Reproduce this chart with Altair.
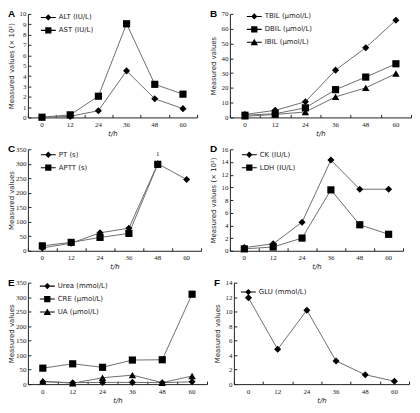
import altair as alt
import pandas as pd

hours = ["0", "12", "24", "36", "48", "60"]

# Panel A (x 10^2)
alt_iu = [0.02, 0.1, 0.65, 4.5, 1.8, 0.85]
ast_iu = [0.02, 0.25, 2.05, 9.05, 3.2, 2.25]
# Panel B
tbil = [2.0, 4.8, 10.6, 32.0, 47.2, 65.8]
dbil = [1.5, 2.5, 6.5, 18.8, 27.3, 36.3]
ibil = [0.8, 2.0, 3.7, 13.9, 20.0, 29.7]
# Panel C
pt_s = [10, 26, 62, 78, 300, 246]
aptt_s = [17, 29, 46, 60, 298, None]
# Panel D (x 10^2)
ck = [0.5, 1.1, 4.5, 14.3, 9.7, 9.7]
ldh = [0.3, 0.6, 2.0, 9.6, 4.1, 2.6]
# Panel E
urea = [8, 5, 6, 6, 5, 8]
cre = [55, 70, 58, 83, 84, 310]
ua = [10, 3, 22, 31, 5, 28]
# Panel F
glu = [11.9, 4.8, 10.2, 3.2, 1.3, 0.4]

SHAPE = {"diamond": "diamond", "square": "square", "triangle": "triangle-up"}
SIZE = {"diamond": 50, "square": 52, "triangle": 56}
BAR = "M-1,-0.07L1,-0.07L1,0.07L-1,0.07Z"
LEG_PATH = {
    "diamond": BAR + "M0,-0.42L0.42,0L0,0.42L-0.42,0Z",
    "square": BAR + "M-0.42,-0.42L0.42,-0.42L0.42,0.42L-0.42,0.42Z",
    "triangle": BAR + "M0,-0.48L0.5,0.4L-0.5,0.4Z",
}

LABEL_FONT = "Liberation Serif"
TEXT_FONT = "DejaVu Sans"


def panel(letter, series, ymax, ystep, ytitle, width, height, legx, legy, note=None):
    rows = []
    for name, kind, vals in series:
        for h, v in zip(hours, vals):
            if v is not None:
                rows.append({"t": h, "v": v, "s": name, "sz": SIZE[kind]})
    df = pd.DataFrame(rows)
    names = [s[0] for s in series]
    kinds = [s[1] for s in series]
    xscale = alt.Scale(type="band", domain=hours, paddingInner=0, paddingOuter=0)
    yscale = alt.Scale(domain=[0, ymax], nice=False, zero=True)
    yvals = list(range(0, ymax + 1, ystep))

    def xs(axis):
        return alt.X("t:O", sort=hours, scale=xscale, axis=axis)

    def ys(axis):
        return alt.Y("v:Q", scale=yscale, axis=axis)

    xmain = alt.Axis(title="t/h", titleFontStyle="italic", ticks=False, grid=False,
                     labelAngle=0, labelPadding=3, titlePadding=2, orient="bottom")
    ymain = alt.Axis(title=ytitle, values=yvals, ticks=False, grid=False,
                     labelPadding=2, titleX=-13, orient="left")
    base = alt.Chart(df)
    line = base.mark_line(color="#6e6e6e", strokeWidth=1).encode(x=xs(xmain), y=ys(ymain), detail="s:N")
    pts = base.mark_point(filled=True, color="black", opacity=1).encode(
        x=xs(None), y=ys(None),
        shape=alt.Shape("s:N", scale=alt.Scale(domain=names, range=[SHAPE[k] for k in kinds]), legend=None),
        size=alt.Size("sz:Q", scale=None),
    )
    # inward ticks via mirrored axes
    ticks = base.mark_point(opacity=0).encode(
        x=xs(alt.Axis(orient="top", offset=-height, labels=False, domain=False, ticks=True,
                      tickSize=3, tickBand="extent", title=None, grid=False)),
        y=ys(alt.Axis(orient="right", offset=-width, labels=False, domain=False, ticks=True,
                      tickSize=3, values=yvals, title=None, grid=False)),
    )
    leg = base.mark_point(filled=True, color="black", opacity=0).encode(
        x=xs(None), y=ys(None),
        shape=alt.Shape("s:N", scale=alt.Scale(domain=names, range=[LEG_PATH[k] for k in kinds]),
                        legend=alt.Legend(title=None, orient="none", legendX=legx, legendY=legy,
                                          symbolSize=225, symbolOpacity=1, symbolStrokeWidth=0,
                                          symbolFillColor="black",
                                          labelFont=TEXT_FONT, labelFontSize=7, labelColor="#222",
                                          rowPadding=2, labelOffset=3, padding=0)),
    )
    lab = alt.Chart(pd.DataFrame({"lab": [letter]})).mark_text(
        fontWeight="bold", fontSize=10, font="Liberation Sans", align="left", baseline="middle", color="black"
    ).encode(text="lab:N", x=alt.value(-20), y=alt.value(0))
    layers = [line, pts, ticks, leg, lab]
    if note is not None:
        ndf = pd.DataFrame({"t": [note[0]], "v": [note[1]], "txt": [note[2]]})
        layers.append(alt.Chart(ndf).mark_text(dy=-10, fontSize=7, font=LABEL_FONT, color="#222").encode(
            x=xs(None), y=ys(None), text="txt:N"))
    return alt.layer(*layers).resolve_scale(shape="independent").properties(width=width, height=height)


pA = panel("A", [("ALT (IU/L)", "diamond", alt_iu), ("AST (IU/L)", "square", ast_iu)],
           10, 1, "Measured values (× 10²)", 170, 104, 13, -4)
pB = panel("B", [("TBIL (μmol/L)", "diamond", tbil), ("DBIL (μmol/L)", "square", dbil),
                 ("IBIL (μmol/L)", "triangle", ibil)],
           70, 10, "Measured values", 182, 104, 17, -5)
pC = panel("C", [("PT (s)", "diamond", pt_s), ("APTT (s)", "square", aptt_s)],
           350, 50, "Measured values", 174, 102, 13, -2, note=("48", 300, "1"))
pD = panel("D", [("CK (IU/L)", "diamond", ck), ("LDH (IU/L)", "square", ldh)],
           16, 2, "Measured values (× 10²)", 174, 102, 12, -2)
pE = panel("E", [("Urea (mmol/L)", "diamond", urea), ("CRE (μmol/L)", "square", cre),
                 ("UA (μmol/L)", "triangle", ua)],
           350, 50, "Measured values", 180, 102, 12, -4)
pF = panel("F", [("GLU (mmol/L)", "diamond", glu)],
           14, 2, "Measured values", 176, 102, 7, 2)

chart = alt.vconcat(
    alt.hconcat(pA, pB, spacing=12),
    alt.hconcat(pC, pD, spacing=8),
    alt.hconcat(pE, pF, spacing=6),
    spacing=8,
).properties(padding=0).configure(background="white").configure_view(stroke=None).configure_axis(
    labelFont=LABEL_FONT, labelFontSize=7, labelColor="#222",
    titleFont=TEXT_FONT, titleFontSize=7, titleFontWeight="normal", titleColor="#222",
    domainColor="#222", domainWidth=1, tickColor="#222", tickWidth=1,
)

chart.save("out.html", embed_options={"renderer": "svg", "actions": False})
